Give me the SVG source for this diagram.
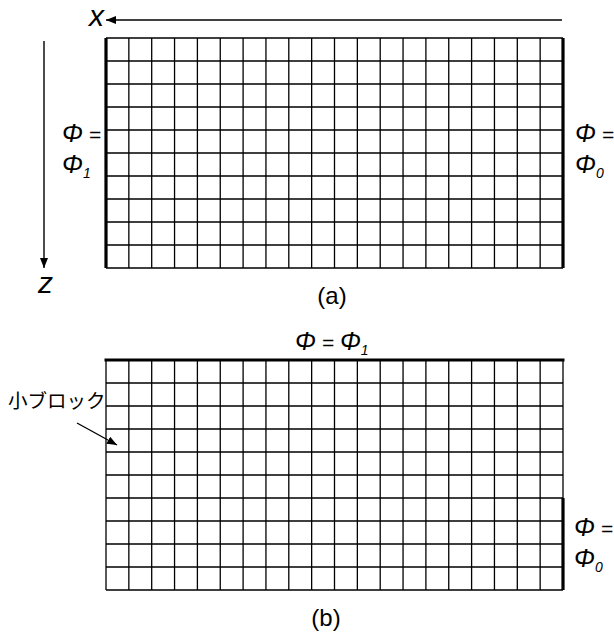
<svg xmlns="http://www.w3.org/2000/svg" xmlns:xlink="http://www.w3.org/1999/xlink" width="614" height="634" viewBox="0 0 614 634">
<style>
.grid{fill:none;stroke:#000;stroke-width:1.3}
.bold{stroke:#000;stroke-width:3.2;fill:none}
.conn{stroke:#000;stroke-width:1.4;fill:none}
.lbl{font-family:"Liberation Sans",Arial,sans-serif;font-style:italic;font-size:21px;fill:#000}
.phi{font-size:25px}
.sub{font-size:14px}
.axis{font-family:"Liberation Sans",Arial,sans-serif;font-style:italic;font-size:30px;fill:#000}
.cap{font-family:"Liberation Sans",Arial,sans-serif;font-size:24px;fill:#000}
.jp{font-family:"Liberation Sans","Noto Sans CJK JP",sans-serif;font-size:19.5px;fill:#000}
</style>
<defs>
<marker id="ah" markerWidth="10" markerHeight="8" refX="10" refY="4" orient="auto" markerUnits="userSpaceOnUse">
<path d="M0,0 L10,4 L0,8 Z" fill="#000"/>
</marker>
<path id="gridpath" class="grid" d="M0,0H457M0,23H457M0,46H457M0,69H457M0,92H457M0,115H457M0,138H457M0,161H457M0,184H457M0,207H457M0,230H457M0,0V230M22.85,0V230M45.7,0V230M68.55,0V230M91.4,0V230M114.25,0V230M137.1,0V230M159.95,0V230M182.8,0V230M205.65,0V230M228.5,0V230M251.35,0V230M274.2,0V230M297.05,0V230M319.9,0V230M342.75,0V230M365.6,0V230M388.45,0V230M411.3,0V230M434.15,0V230M457,0V230"/>
</defs>

<g id="grid-a">
<use xlink:href="#gridpath" x="106" y="38"/>
<path class="bold" d="M106,38V268M563,38V268"/>
</g>

<g id="grid-b">
<use xlink:href="#gridpath" x="106" y="360"/>
<path class="bold" d="M104.5,360H564.5M563,498V590"/>
</g>

<g id="connectors">
<line class="conn" x1="562" y1="20" x2="106" y2="20" marker-end="url(#ah)"/>
<line class="conn" x1="44" y1="41" x2="44" y2="268" marker-end="url(#ah)"/>
<line class="conn" x1="77" y1="423" x2="117" y2="445" stroke-width="1" marker-end="url(#ah)"/>
</g>

<g id="label-x"><text class="axis" x="89" y="26">x</text></g>
<g id="label-z"><text class="axis" x="38" y="293">z</text></g>

<g id="label-a-left">
<text class="lbl" x="62" y="142"><tspan class="phi">Φ</tspan> =</text>
<text class="lbl" x="62" y="173"><tspan class="phi">Φ</tspan><tspan class="sub" dy="5">1</tspan></text>
</g>
<g id="label-a-right">
<text class="lbl" x="575" y="142"><tspan class="phi">Φ</tspan> =</text>
<text class="lbl" x="575" y="173"><tspan class="phi">Φ</tspan><tspan class="sub" dy="5">0</tspan></text>
</g>
<g id="caption-a"><text class="cap" x="332" y="304" text-anchor="middle">(a)</text></g>

<g id="label-b-top"><text class="lbl" x="295" y="350"><tspan class="phi">Φ</tspan> = <tspan class="phi">Φ</tspan><tspan class="sub" dy="5">1</tspan></text></g>
<g id="label-b-right">
<text class="lbl" x="574" y="536"><tspan class="phi">Φ</tspan> =</text>
<text class="lbl" x="574" y="567"><tspan class="phi">Φ</tspan><tspan class="sub" dy="5">0</tspan></text>
</g>
<g id="label-block"><text class="jp" x="8" y="408">小ブロック</text></g>
<g id="caption-b"><text class="cap" x="326" y="626" text-anchor="middle">(b)</text></g>
</svg>
